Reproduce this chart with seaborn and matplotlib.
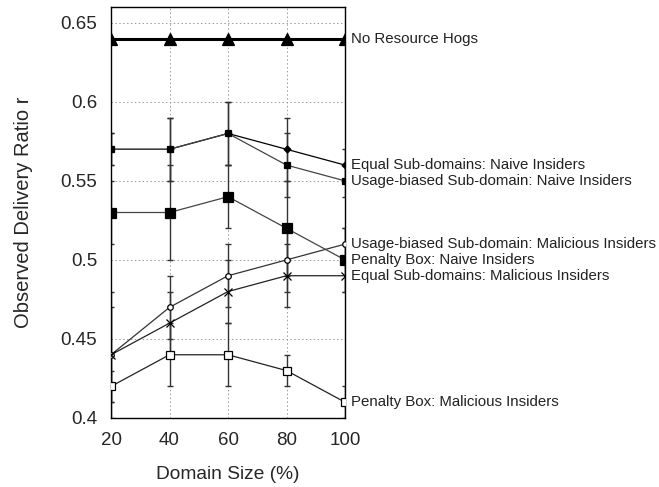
import numpy as np
import pandas as pd
import matplotlib
matplotlib.use("Agg")
import matplotlib.pyplot as plt
import seaborn as sns

sns.set_theme(style="white")
plt.rcParams["font.family"] = ["Liberation Sans", "DejaVu Sans"]

domain_size = [20, 40, 60, 80, 100]

no_hogs = [0.64, 0.64, 0.64, 0.64, 0.64]
equal_naive = [0.57, 0.57, 0.58, 0.57, 0.56]
usage_naive = [0.57, 0.57, 0.58, 0.56, 0.55]
penalty_naive = [0.53, 0.53, 0.54, 0.52, 0.50]
usage_malicious = [0.44, 0.47, 0.49, 0.50, 0.51]
equal_malicious = [0.44, 0.46, 0.48, 0.49, 0.49]
penalty_malicious = [0.42, 0.44, 0.44, 0.43, 0.41]

equal_naive_err = [0.01, 0.02, 0.02, 0.02, 0.01]
usage_naive_err = [0.01, 0.02, 0.02, 0.02, 0.01]
penalty_naive_err = [0.02, 0.03, 0.02, 0.03, 0.02]
usage_malicious_err = [0.04, 0.02, 0.02, 0.02, 0.01]
equal_malicious_err = [0.03, 0.02, 0.02, 0.02, 0.01]
penalty_malicious_err = [0.01, 0.02, 0.02, 0.01, 0.01]

series_names = [
    "No Resource Hogs",
    "Equal Sub-domains: Naive Insiders",
    "Usage-biased Sub-domain: Naive Insiders",
    "Usage-biased Sub-domain: Malicious Insiders",
    "Penalty Box: Naive Insiders",
    "Equal Sub-domains: Malicious Insiders",
    "Penalty Box: Malicious Insiders",
]
series_values = [no_hogs, equal_naive, usage_naive, usage_malicious,
                 penalty_naive, equal_malicious, penalty_malicious]
series_errors = [None, equal_naive_err, usage_naive_err, usage_malicious_err,
                 penalty_naive_err, equal_malicious_err, penalty_malicious_err]

styles = {
    "No Resource Hogs": dict(marker="^", ms=9, mfc="black", color="black", lw=2.2),
    "Equal Sub-domains: Naive Insiders": dict(marker="D", ms=3.5, mfc="black", color="black", lw=0.9),
    "Usage-biased Sub-domain: Naive Insiders": dict(marker="s", ms=4, mfc="black", color="#444444", lw=0.9),
    "Usage-biased Sub-domain: Malicious Insiders": dict(marker="o", ms=4, mfc="white", color="#333333", lw=0.9),
    "Penalty Box: Naive Insiders": dict(marker="s", ms=6.5, mfc="black", color="#444444", lw=0.9),
    "Equal Sub-domains: Malicious Insiders": dict(marker="x", ms=5.5, mfc="black", color="#222222", lw=0.9),
    "Penalty Box: Malicious Insiders": dict(marker="s", ms=5.5, mfc="white", color="#222222", lw=0.9),
}

df = pd.DataFrame({
    "Domain Size (%)": np.tile(domain_size, len(series_names)),
    "ratio": np.concatenate(series_values),
    "series": np.repeat(series_names, len(domain_size)),
})

fig = plt.figure(figsize=(6.59, 4.87), dpi=100)
ax = fig.add_axes([111 / 659, 1 - 418 / 487, 234 / 659, 411 / 487])

# error bars first so markers sit on top
for name, vals, errs in zip(series_names, series_values, series_errors):
    if errs is None:
        continue
    ax.errorbar(domain_size, vals, yerr=errs, fmt="none", ecolor="#333333",
                elinewidth=1.0, capsize=2.5, capthick=1.0, zorder=2)

for name in series_names:
    st = styles[name]
    sub = df[df["series"] == name]
    sns.lineplot(data=sub, x="Domain Size (%)", y="ratio", ax=ax,
                 color=st["color"], lw=st["lw"], marker=st["marker"],
                 markersize=st["ms"], markerfacecolor=st["mfc"],
                 markeredgecolor="black", markeredgewidth=0.9,
                 errorbar=None, legend=False, zorder=3)

# labels at the right end of each curve
for name, vals in zip(series_names, series_values):
    ax.annotate(name, xy=(domain_size[-1], vals[-1]), xytext=(4, 0),
                textcoords="offset points", va="center", ha="left",
                fontsize=10.8, color="#222222", annotation_clip=False)

ax.set_xlim(20, 100)
ax.set_ylim(0.4, 0.66)
ax.set_xticks(domain_size)
ax.set_xticklabels([str(v) for v in domain_size])
ax.set_yticks([0.4, 0.45, 0.5, 0.55, 0.6, 0.65])
ax.set_yticklabels(["0.4", "0.45", "0.5", "0.55", "0.6", "0.65"])
ax.grid(True, linestyle=(0, (1.5, 2.5)), color="#999999", lw=0.7)
ax.tick_params(axis="y", labelsize=13.5, length=0, pad=10)
ax.tick_params(axis="x", labelsize=13.5, length=0, pad=10)
for sp in ax.spines.values():
    sp.set_color("black")
    sp.set_linewidth(1.0)

ax.set_xlabel("Domain Size (%)", fontsize=13.8, labelpad=12)
ax.set_ylabel("Observed Delivery Ratio r", fontsize=14.5, labelpad=20)

fig.savefig("out.png", dpi=100)
